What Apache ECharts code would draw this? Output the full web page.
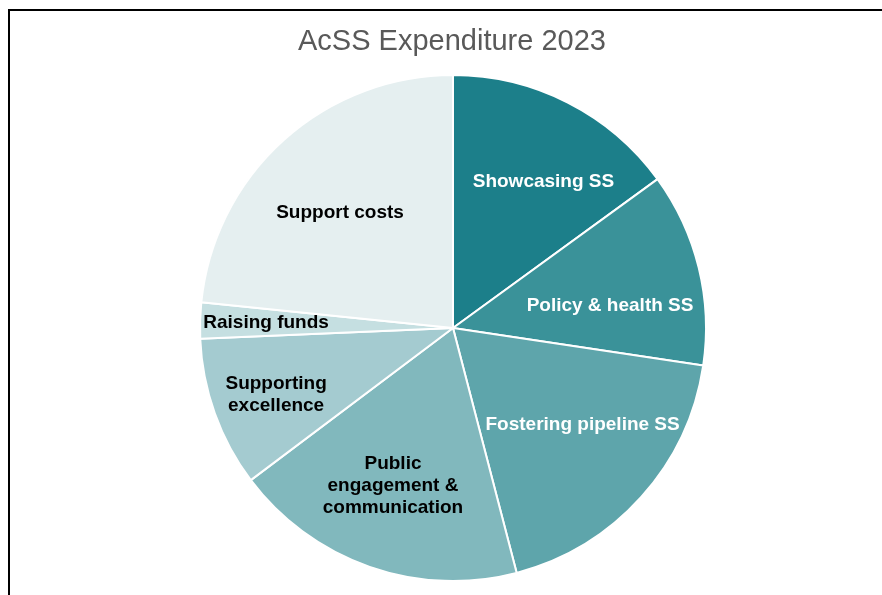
<!DOCTYPE html>
<html>
<head>
<meta charset="utf-8">
<title>AcSS Expenditure 2023</title>
<script src="https://cdn.jsdelivr.net/npm/echarts@6/dist/echarts.min.js"></script>
<style>
  html, body { margin: 0; padding: 0; background: #fff; }
  #main { width: 882px; height: 595px; }
</style>
</head>
<body>
<div id="main"></div>
<script>
// categories, clockwise from 12 o'clock
var categories = ['Showcasing SS', 'Policy & health SS', 'Fostering pipeline SS',
    'Public\nengagement &\ncommunication', 'Supporting\nexcellence', 'Raising funds', 'Support costs'];
// share of expenditure (%)
var values = [15.0, 12.4, 18.6, 18.8, 9.6, 2.3, 23.4];

// styling
var colors = ['#1c7f8a', '#3a9299', '#5ea5ab', '#81b8bd', '#a4cbd0', '#c5dfe1', '#e5eff0'];
var labelColors = ['#fff', '#fff', '#fff', '#000', '#000', '#000', '#000'];
// small nudges so the labels sit like the original's "best fit" ones
var labelNudge = [[12, 8], [-11, 19], [1, -19], [-3, -6], [-14, 8], [-14, 0], [3, 13]];

var myChart = echarts.init(document.getElementById('main'));

var pieData = categories.map(function (c, i) {
    return { name: c, value: values[i], itemStyle: { color: colors[i] } };
});
var labelData = categories.map(function (c, i) {
    return { name: c, value: values[i], label: { color: labelColors[i], offset: labelNudge[i] } };
});

var option = {
    backgroundColor: '#fff',
    animation: false,
    title: {
        text: 'AcSS Expenditure 2023',
        left: 293,
        top: 22,
        textStyle: {
            fontFamily: 'Liberation Sans, Arial, sans-serif',
            fontSize: 29,
            fontWeight: 'normal',
            color: '#595959'
        }
    },
    graphic: [{
        type: 'rect',
        shape: { x: 9, y: 10, width: 1000, height: 1000 },
        style: { fill: 'none', stroke: '#000', lineWidth: 2 },
        silent: true
    }],
    series: [{
        // the slices
        type: 'pie',
        center: [453, 328],
        radius: 253,
        startAngle: 90,
        clockwise: true,
        label: { show: false },
        labelLine: { show: false },
        itemStyle: { borderColor: '#fff', borderWidth: 2 },
        emphasis: { disabled: true },
        data: pieData
    }, {
        // transparent ring only used to place the labels further out
        type: 'pie',
        center: [453, 328],
        radius: [122, 218],
        startAngle: 90,
        clockwise: true,
        silent: true,
        itemStyle: { color: 'rgba(0,0,0,0)', borderWidth: 0 },
        label: {
            show: true,
            position: 'inside',
            formatter: '{b}',
            fontFamily: 'Liberation Sans, Arial, sans-serif',
            fontSize: 19,
            fontWeight: 'bold',
            lineHeight: 22,
            align: 'center'
        },
        labelLine: { show: false },
        emphasis: { disabled: true },
        data: labelData
    }]
};

myChart.setOption(option);
</script>
</body>
</html>
